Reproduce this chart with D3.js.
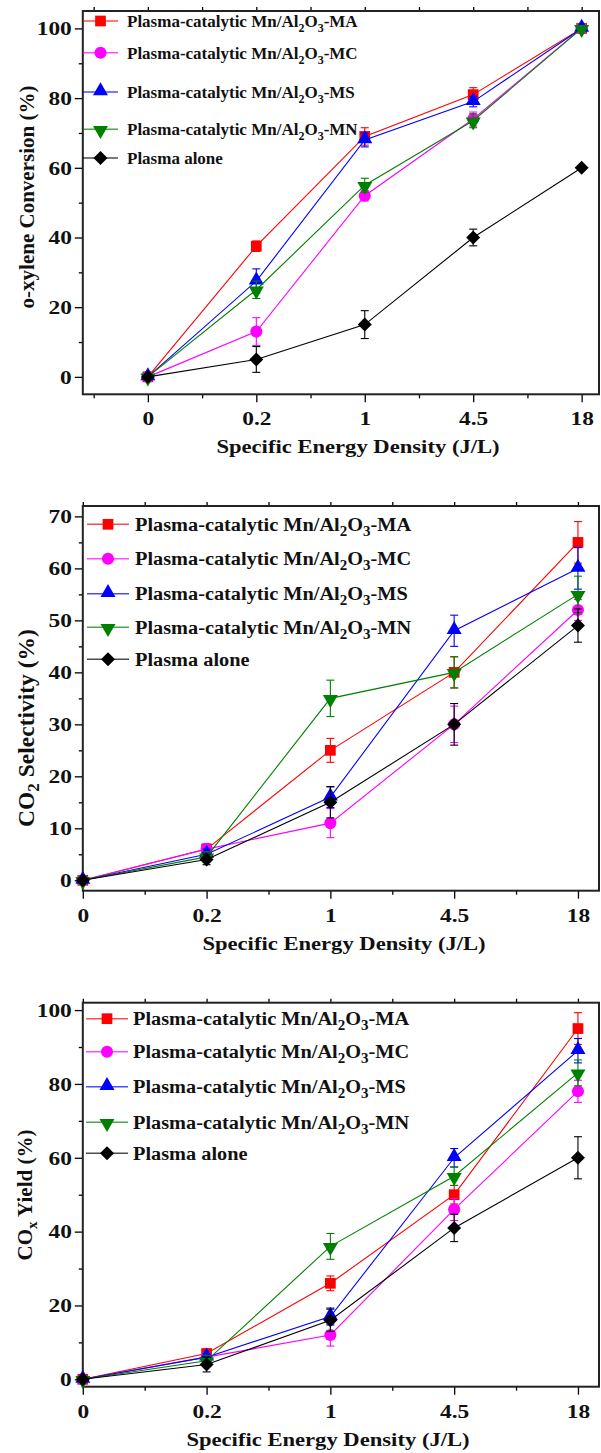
<!DOCTYPE html>
<html>
<head>
<meta charset="utf-8">
<script src="https://cdn.jsdelivr.net/npm/d3@7"></script>
<style>
body { margin: 0; background: #fff; }
text { font-family: "Liberation Serif", "Times New Roman", serif; font-weight: bold; fill: #111; }
</style>
</head>
<body>
<svg id="chart"></svg>
<script>
// categories on the x axis (J/L)
var categories = ["0", "0.2", "1", "4.5", "18"];
var seriesLabels = ["-MA", "-MC", "-MS", "-MN"];

// o-xylene conversion (%)
var conversionMA = [0, 37.5, 69, 81, 100];
var conversionMAErr = [0, 1.5, 2.5, 2, 0];
var conversionMC = [0, 13, 52, 74, 100];
var conversionMCErr = [0, 4, 1.5, 2, 0];
var conversionMS = [0, 27.5, 68, 79, 100];
var conversionMSErr = [0, 3.5, 2, 1.5, 0];
var conversionMN = [0, 25, 55, 73.5, 100];
var conversionMNErr = [0, 2.5, 2, 2, 0];
var conversionAlone = [0, 5, 15, 40, 60];
var conversionAloneErr = [0, 3.7, 4, 2.4, 0];

// CO2 selectivity (%)
var selectivityMA = [0, 6, 25, 40, 65];
var selectivityMAErr = [0, 1, 2.3, 3, 4];
var selectivityMC = [0, 6, 11, 30, 52];
var selectivityMCErr = [0, 1, 2.8, 3.5, 2];
var selectivityMS = [0, 5, 16, 48, 60];
var selectivityMSErr = [0, 1, 2, 3, 4];
var selectivityMN = [0, 4.5, 35, 40, 55];
var selectivityMNErr = [0, 1, 3.5, 3, 3.5];
var selectivityAlone = [0, 4, 15, 30, 49];
var selectivityAloneErr = [0, 1, 3, 4, 3.2];

// COx yield (%)
var yieldMA = [0, 7, 26, 50, 95];
var yieldMAErr = [0, 1, 2, 2.5, 4.3];
var yieldMC = [0, 6, 12, 46, 78];
var yieldMCErr = [0, 1, 3, 3, 3];
var yieldMS = [0, 6, 17, 60, 89];
var yieldMSErr = [0, 1, 2.3, 2.5, 3.3];
var yieldMN = [0, 5, 36, 55, 83];
var yieldMNErr = [0, 1.5, 3.5, 2.5, 3.5];
var yieldAlone = [0, 4, 16, 41, 60];
var yieldAloneErr = [0, 2, 3, 3.7, 5.7];

var colors = ["#ff0000", "#ff00ff", "#0000ff", "#008000", "#000000"];
var markers = ["square", "circle", "triangle", "triangleDown", "diamond"];

var svg = d3.select("#chart").attr("width", 601).attr("height", 1453);

var panels = [
    {top: 11, bottom: 394.3, xDomain: [-0.6, 4.16], yDomain: [-5, 105], yTicks: d3.range(0, 101, 20), yMinor: d3.range(10, 101, 20),
     title: [["o-xylene Conversion (%)", false]], titleX: 27, titleY: 197, titleFont: 21, xTitleX: 358,
     legendRows: [21, 52.7, 92, 129.3, 158], legendX: 83, legendLen: 35, legendGap: 44, legendFont: 17, legendStretch: 1,
     series: [[conversionMA, conversionMAErr], [conversionMC, conversionMCErr], [conversionMS, conversionMSErr], [conversionMN, conversionMNErr], [conversionAlone, conversionAloneErr]]},
    {top: 506, bottom: 890.7, xDomain: [0, 4.17], yDomain: [-2, 72], yTicks: d3.range(0, 71, 10), yMinor: d3.range(5, 71, 10),
     title: [["CO", false], ["2", true], [" Selectivity (%)", false]], titleX: 26, titleY: 728, titleFont: 23.5, xTitleX: 344,
     legendRows: [524.3, 558.7, 593.7, 627.3, 659.3], legendX: 87, legendLen: 42, legendGap: 48, legendFont: 19, legendStretch: 1.07,
     series: [[selectivityMA, selectivityMAErr], [selectivityMC, selectivityMCErr], [selectivityMS, selectivityMSErr], [selectivityMN, selectivityMNErr], [selectivityAlone, selectivityAloneErr]]},
    {top: 1002.7, bottom: 1386.7, xDomain: [0, 4.17], yDomain: [-2, 102], yTicks: d3.range(0, 101, 20), yMinor: d3.range(10, 101, 20),
     title: [["CO", false], ["x", true], [" Yield (%)", false]], titleX: 25, titleY: 1195, titleFont: 21, xTitleX: 328,
     legendRows: [1018.7, 1051.7, 1086.7, 1122.3, 1153.3], legendX: 86, legendLen: 42, legendGap: 47, legendFont: 19, legendStretch: 1.07,
     series: [[yieldMA, yieldMAErr], [yieldMC, yieldMCErr], [yieldMS, yieldMSErr], [yieldMN, yieldMNErr], [yieldAlone, yieldAloneErr]]}
];

var left = 82.8, right = 599;
var stretch = 1.2;   // the print is wider than plain Times

function symbolPath(type, size)
{
    if (type == "square") return d3.symbol().type(d3.symbolSquare).size(size)();
    if (type == "circle") return d3.symbol().type(d3.symbolCircle).size(size)();
    if (type == "diamond") return d3.symbol().type(d3.symbolSquare).size(size * 0.85)();
    return d3.symbol().type(d3.symbolTriangle).size(size * 0.85)();
}
function symbolTransform(type, x, y)
{
    if (type == "triangleDown") return "translate(" + x + "," + (y + 1) + ") rotate(180)";
    if (type == "triangle") return "translate(" + x + "," + (y - 1) + ")";
    if (type == "diamond") return "translate(" + x + "," + y + ") rotate(45)";
    return "translate(" + x + "," + y + ")";
}

var drawPanel = function(p)
{
    var xScale = d3.scaleLinear().domain(p.xDomain).range([left, right]);
    var yScale = d3.scaleLinear().domain(p.yDomain).range([p.bottom, p.top]);
    var g = svg.append("g");

    // left axis
    g.append("g").attr("transform", "translate(" + left + ",0)")
        .call(d3.axisLeft(yScale).tickValues(p.yTicks).tickSize(8).tickPadding(3).tickFormat(d3.format("d")))
        .call(function(a){
            a.select(".domain").remove();
            a.selectAll("text").style("font-size", "19.5px").style("font-family", null)
                .attr("x", -11 / stretch).attr("transform", "scale(" + stretch + ",1)");
            a.selectAll("line").attr("stroke-width", 1.3);
        });
    g.append("g").attr("transform", "translate(" + left + ",0)")
        .call(d3.axisLeft(yScale).tickValues(p.yMinor).tickSize(4).tickFormat(""))
        .call(function(a){ a.select(".domain").remove(); a.selectAll("line").attr("stroke-width", 1.3); });

    // bottom axis
    var majors = d3.range(categories.length);
    var minors = d3.range(-0.5, 4.6, 1).filter(function(v){ return v >= p.xDomain[0] && v <= p.xDomain[1]; });
    g.append("g").attr("transform", "translate(0," + p.bottom + ")")
        .call(d3.axisBottom(xScale).tickValues(majors).tickSize(8).tickPadding(9).tickFormat(function(i){ return categories[i]; }))
        .call(function(a){
            a.select(".domain").remove();
            a.selectAll("text").style("font-size", "19.5px").style("font-family", null)
                .attr("transform", "scale(" + stretch + ",1)");
            a.selectAll("line").attr("stroke-width", 1.3);
        });
    g.append("g").attr("transform", "translate(0," + p.bottom + ")")
        .call(d3.axisBottom(xScale).tickValues(minors).tickSize(4).tickFormat(""))
        .call(function(a){ a.select(".domain").remove(); a.selectAll("line").attr("stroke-width", 1.3); });

    // top axis ticks
    g.append("g").attr("transform", "translate(0," + p.top + ")")
        .call(d3.axisTop(xScale).tickValues(majors.concat(minors)).tickSize(4).tickFormat(""))
        .call(function(a){ a.select(".domain").remove(); a.selectAll("line").attr("stroke-width", 1.3); });

    // frame
    g.append("rect").attr("x", left).attr("y", p.top).attr("width", right - left).attr("height", p.bottom - p.top)
        .attr("fill", "none").attr("stroke", "#222").attr("stroke-width", 2);

    // x title
    g.append("text").attr("text-anchor", "middle")
        .attr("transform", "translate(" + p.xTitleX + "," + (p.bottom + 59) + ") scale(1.16,1)")
        .style("font-size", "19.5px").text("Specific Energy Density (J/L)");

    // y title
    var yt = g.append("text").attr("text-anchor", "middle").style("font-size", p.titleFont + "px")
        .attr("transform", "translate(" + p.titleX + "," + p.titleY + ") rotate(-90)")
        .attr("dy", "0.35em");
    p.title.forEach(function(part, k){
        yt.append("tspan").text(part[0])
            .attr("dy", part[1] ? 5 : (k > 0 ? -5 : null))
            .style("font-size", part[1] ? Math.round(p.titleFont * 0.72) + "px" : null);
    });

    // lines, error bars, markers
    p.series.forEach(function(s, si){
        var vals = s[0], errs = s[1];
        var line = d3.line().x(function(d, i){ return xScale(i); }).y(function(d){ return yScale(d); });
        g.append("path").datum(vals).attr("d", line).attr("fill", "none")
            .attr("stroke", colors[si]).attr("stroke-width", 1.1);
        var eb = g.append("g").attr("stroke", colors[si]).attr("stroke-width", 1.1);
        vals.forEach(function(v, i){
            if (!errs[i]) return;
            var x = xScale(i), y0 = yScale(v - errs[i]), y1 = yScale(v + errs[i]);
            eb.append("line").attr("x1", x).attr("x2", x).attr("y1", y0).attr("y2", y1);
            eb.append("line").attr("x1", x - 4).attr("x2", x + 4).attr("y1", y0).attr("y2", y0);
            eb.append("line").attr("x1", x - 4).attr("x2", x + 4).attr("y1", y1).attr("y2", y1);
        });
        g.append("g").selectAll("path").data(vals).enter().append("path")
            .attr("d", symbolPath(markers[si], 115))
            .attr("transform", function(d, i){ return symbolTransform(markers[si], xScale(i), yScale(d)); })
            .attr("fill", colors[si]);
    });

    // legend
    p.legendRows.forEach(function(ry, si){
        var lx = p.legendX;
        g.append("line").attr("x1", lx).attr("x2", lx + p.legendLen).attr("y1", ry).attr("y2", ry)
            .attr("stroke", colors[si]).attr("stroke-opacity", 0.7).attr("stroke-width", 1.5);
        g.append("path").attr("d", symbolPath(markers[si], 115))
            .attr("transform", symbolTransform(markers[si], lx + p.legendLen / 2, ry)).attr("fill", colors[si]);
        var t = g.append("text").attr("dy", "0.35em")
            .attr("transform", "translate(" + (lx + p.legendGap) + "," + ry + ") scale(" + p.legendStretch + ",1)")
            .style("font-size", p.legendFont + "px");
        if (si == 4) { t.text("Plasma alone"); return; }
        var small = Math.round(p.legendFont * 0.72) + "px";
        t.append("tspan").text("Plasma-catalytic Mn/Al");
        t.append("tspan").text("2").attr("dy", 5).style("font-size", small);
        t.append("tspan").text("O").attr("dy", -5);
        t.append("tspan").text("3").attr("dy", 5).style("font-size", small);
        t.append("tspan").text(seriesLabels[si]).attr("dy", -5);
    });
}

panels.forEach(drawPanel);
</script>
</body>
</html>
